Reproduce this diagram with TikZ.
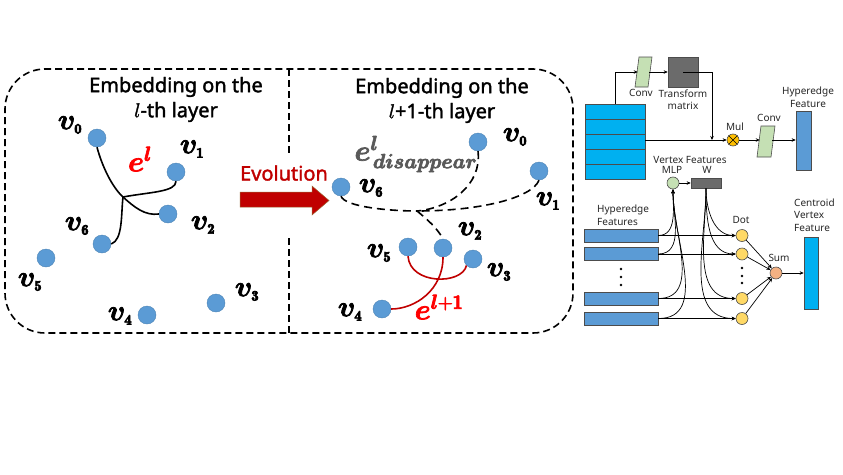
\RequirePackage{fix-cm}
\documentclass[tikz,border=0pt]{standalone}
\usepackage{amsmath}
\usepackage{bm}
\usepackage{fontspec}
\newfontfamily\noto{Noto Sans}
\usetikzlibrary{arrows.meta}
\definecolor{nodeblue}{HTML}{5B9BD5}
\definecolor{evored}{HTML}{C00000}
\definecolor{labred}{HTML}{FF0000}
\definecolor{cyanblue}{HTML}{00B0F0}
\definecolor{lgreen}{HTML}{C5E0B4}
\definecolor{dgray}{HTML}{6B6B6B}
\definecolor{dotyel}{HTML}{FFD966}
\definecolor{mulc}{HTML}{FFC000}
\definecolor{sumc}{HTML}{F4B183}
\definecolor{grayt}{HTML}{595959}
\newcommand\heavy[1]{\special{pdf:literal direct 2 Tr 0.7 w}#1\special{pdf:literal direct 0 Tr}}
\newcommand\semi[1]{\special{pdf:literal direct 2 Tr 0.35 w}#1\special{pdf:literal direct 0 Tr}}
\newcommand\vlab[1]{\heavy{$\bm{v}_{\scriptscriptstyle\mathbf{#1}}$}}
\begin{document}
\begin{tikzpicture}[x=1pt,y=-1pt,
  vx/.style={circle, fill=nodeblue, draw=nodeblue!85!black, line width=0.4pt, minimum size=18pt, inner sep=0},
  vl/.style={font=\fontsize{29}{29}\selectfont, inner sep=0},
  ttl/.style={font=\noto\fontsize{20}{25}\selectfont, align=center, inner sep=0},
  dashbox/.style={line width=1.6pt, dash pattern=on 7pt off 4pt},
  hedge/.style={line width=1.6pt},
  dedge/.style={line width=1.6pt, dash pattern=on 8pt off 5pt},
  redge/.style={line width=1.6pt, evored},
  sm/.style={font=\noto\fontsize{10}{12.5}\selectfont, inner sep=0, text=black!85},
  arr/.style={line width=0.7pt, -{Stealth[length=4pt,width=3.5pt]}},
  bar/.style={rectangle, draw=black!70, line width=0.6pt, inner sep=0}
]
\useasboundingbox (0,0) rectangle (843,474);

% ---------- dashed frame ----------
\draw[dashbox, rounded corners=40pt] (289,69) -| (5,333) -| (573,69) -- cycle;
\draw[dashbox] (289,69) -- (289,153);
\draw[dashbox] (289,238) -- (289,333);

% ---------- left panel ----------
\node[ttl] (t1) at (176,99.5) {\semi{Embedding on the}\\\semi{$l$-th layer}};

\node[vx] (L0) at (97,138) {};
\node[vx] (L1) at (176,172) {};
\node[vx] (L2) at (168,214) {};
\node[vx] (L6) at (102,244) {};
\node[vx] (L5) at (46,258) {};
\node[vx] (L3) at (216,303) {};
\node[vx] (L4) at (147,315) {};

\node[vl] (lv0) at (70,125) {\vlab{0}};
\node[vl] (lv1) at (192,149) {\vlab{1}};
\node[vl] (lv2) at (203,225) {\vlab{2}};
\node[vl] (lv6) at (77,226) {\vlab{6}};
\node[vl] (lv5) at (30,282) {\vlab{5}};
\node[vl] (lv3) at (247,292) {\vlab{3}};
\node[vl] (lv4) at (120,316) {\vlab{4}};
\node[vl, text=labred] (el) at (140,159) {\heavy{$\bm{e}^{\bm{l}}$}};

\coordinate (J1) at (123,197);
\draw[hedge] (L0.south) .. controls (102,166) and (112,187) .. (J1)
             .. controls (134,207) and (145,216) .. (L2.west);
\draw[hedge] (L1.south) .. controls (176,192) and (150,192) .. (J1)
             .. controls (121,214) and (123,240) .. (L6.east);

% ---------- evolution arrow ----------
\node[font=\noto\fontsize{20}{24}\selectfont, text=evored, inner sep=0] (evo) at (284,173) {\semi{Evolution}};
\draw[fill=evored, draw=brown!80!black, line width=0.5pt]
  (240,192) -- (312,192) -- (312,186) -- (329,200.5) -- (312,215) -- (312,207) -- (240,207) -- cycle;

% ---------- right panel ----------
\node[ttl] (t2) at (442,100.5) {\semi{Embedding on the}\\\semi{$l$+1-th layer}};

\node[vx] (R0) at (478,142) {};
\node[vx] (R1) at (539,171) {};
\node[vx] (R6) at (341,187) {};
\node[vx] (R2) at (443,248) {};
\node[vx] (R5) at (408,247) {};
\node[vx] (R3) at (473,259) {};
\node[vx] (R4) at (382,309) {};

\node[vl] (rv0) at (515,137) {\vlab{0}};
\node[vl] (rv1) at (548,201) {\vlab{1}};
\node[vl] (rv6) at (371,188) {\vlab{6}};
\node[vl] (rv2) at (470,231) {\vlab{2}};
\node[vl] (rv5) at (379,253) {\vlab{5}};
\node[vl] (rv3) at (499,272) {\vlab{3}};
\node[vl] (rv4) at (350,312) {\vlab{4}};
\node[vl, text=grayt] (ed) at (416,154) {\heavy{$\bm{e}^{\bm{l}}_{\mkern2mu\bm{disappear}}$}};
\node[vl, text=labred] (el1) at (439,307) {\heavy{$\bm{e}^{\bm{l}+\mathbf{1}}$}};

\coordinate (J2) at (417,211);
\draw[dedge] (R6.south) .. controls (345,207) and (390,211) .. (J2);
\draw[dedge] (R0.south) .. controls (482,185) and (450,208) .. (J2);
\draw[dedge] (R1.south) .. controls (532,198) and (480,211) .. (J2);
\draw[dedge] (J2) .. controls (428,220) and (437,228) .. (R2.north);

\draw[redge] (R5.south) .. controls (410,285) and (462,285) .. (R3.south west);
\draw[redge] (R2.south) .. controls (443,290) and (415,309) .. (R4.east);

% ---------- network (top) ----------
\node[bar, fill=cyanblue, minimum width=60pt, minimum height=75pt] (stack) at (615,141.5) {};
\foreach \yy in {119,134,149,164} \draw[black!70, line width=0.6pt] (585,\yy) -- (645,\yy);

\draw[fill=lgreen, draw=black!70, line width=0.6pt] (635,87) -- (639,57) -- (652,57) -- (648,87) -- cycle;
\node[minimum width=11pt, minimum height=30pt, inner sep=0] (c1) at (643.5,72) {};
\node[bar, fill=dgray, minimum width=30pt, minimum height=30pt] (tm) at (683,72) {};
\node[sm] (c1l) at (641,93) {Conv};
\node[sm, align=center] (tml) at (683,99.5) {Transform\\matrix};

\node[circle, fill=mulc, draw=black!70, line width=0.6pt, minimum size=12pt, inner sep=0] (mul) at (733,140) {};
\draw[line width=0.6pt] (mul.north west) -- (mul.south east) (mul.north east) -- (mul.south west);
\node[sm] (mull) at (735,127) {Mul};

\draw[fill=lgreen, draw=black!70, line width=0.6pt] (757,157) -- (761,126) -- (775,126) -- (771,157) -- cycle;
\node[minimum width=12pt, minimum height=31pt, inner sep=0] (c2) at (766,141.5) {};
\node[sm] (c2l) at (769,118) {Conv};

\node[bar, fill=nodeblue, minimum width=15pt, minimum height=59pt] (hf) at (803.5,140.5) {};
\node[sm, align=center] (hfl) at (808,97) {Hyperedge\\Feature};

\coordinate (tj) at (712,140);
\draw[arr] (stack.north) |- (c1.west);
\draw[arr] (c1.east) -- (tm.west);
\draw[arr] (tm.center) -| (tj);
\draw[arr] (stack.east |- mul) -- (mul.west);
\draw[arr] (mul.east) -- (c2.west |- mul);
\draw[arr] (c2.east |- mul) -- (hf.west |- mul);

% ---------- network (bottom) ----------
\node[sm] (vfl) at (690,159.5) {Vertex Features};
\node[sm] (mlpl) at (672,170) {MLP};
\node[sm] (wl) at (707,170) {W};
\node[circle, fill=lgreen, draw=black!70, line width=0.6pt, minimum size=12pt, inner sep=0] (mlp) at (673,183) {};
\node[bar, fill=dgray, minimum width=30pt, minimum height=10pt] (w) at (706,183) {};
\draw[arr] (mlp.east) -- (w.west);

\node[sm, align=left, anchor=west] (hfs) at (597,215) {Hyperedge\\Features};
\node[bar, fill=nodeblue, minimum width=74pt, minimum height=13pt] (h1) at (621,235.5) {};
\node[bar, fill=nodeblue, minimum width=74pt, minimum height=13pt] (h2) at (621,254) {};
\node[bar, fill=nodeblue, minimum width=74pt, minimum height=13pt] (h3) at (621,298.5) {};
\node[bar, fill=nodeblue, minimum width=74pt, minimum height=13pt] (h4) at (621,318.5) {};
\foreach \yy in {269,277,285} \fill (621,\yy) circle (1.4pt);

\foreach \i/\yy in {1/235.5,2/254,3/298.5,4/318.5}
  \node[circle, fill=dotyel, draw=black!70, line width=0.6pt, minimum size=12pt, inner sep=0] (d\i) at (742,\yy) {};
\foreach \yy in {268,276,283} \fill (742,\yy) circle (1.4pt);
\node[sm] (dotl) at (741,220) {Dot};

\node[circle, fill=sumc, draw=black!70, line width=0.6pt, minimum size=12pt, inner sep=0] (sum) at (776,273) {};
\node[sm] (suml) at (779,258) {Sum};
\node[bar, fill=cyanblue, minimum width=14pt, minimum height=72pt] (cv) at (811,273) {};
\node[sm, align=left, anchor=west] (cvl) at (794,215) {Centroid\\Vertex\\Feature};

\foreach \i in {1,2,3,4} {
  \draw[arr] (h\i.east) -- (d\i.west);
  \draw[arr] (h\i.east) to[out=0, in=-90] (mlp.south);
  \draw[arr] (w.south) to[out=-90, in=180] (d\i.west);
  \draw[arr] (d\i) -- (sum);
}
\draw[arr] (sum.east) -- (cv.west);

\end{tikzpicture}
\end{document}
